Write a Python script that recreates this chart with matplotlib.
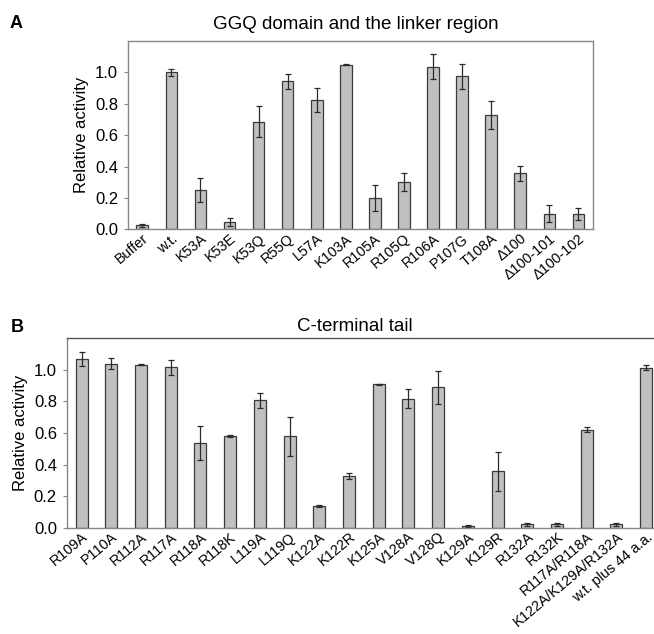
import numpy as np
import matplotlib
matplotlib.use("Agg")
import matplotlib.pyplot as plt

plt.rcParams['font.family'] = ['Liberation Sans', 'DejaVu Sans']

# panel A: GGQ domain and the linker region
labels_a = ['Buffer', 'w.t.', 'K53A', 'K53E', 'K53Q', 'R55Q', 'L57A', 'K103A',
            'R105A', 'R105Q', 'R106A', 'P107G', 'T108A', 'Δ100', 'Δ100-101', 'Δ100-102']
values_a = [0.025, 1.0, 0.25, 0.048, 0.685, 0.943, 0.823, 1.05,
            0.198, 0.302, 1.036, 0.976, 0.728, 0.356, 0.099, 0.099]
errors_a = [0.008, 0.02, 0.075, 0.025, 0.098, 0.05, 0.075, 0.005,
            0.083, 0.058, 0.08, 0.08, 0.088, 0.05, 0.055, 0.038]

# panel B: C-terminal tail
labels_b = ['R109A', 'P110A', 'R112A', 'R117A', 'R118A', 'R118K', 'L119A', 'L119Q',
            'K122A', 'K122R', 'K125A', 'V128A', 'V128Q', 'K129A', 'K129R', 'R132A',
            'R132K', 'R117A/R118A', 'K122A/K129A/R132A', 'w.t. plus 44 a.a.']
values_b = [1.07, 1.04, 1.032, 1.015, 0.534, 0.583, 0.807, 0.578,
            0.136, 0.328, 0.909, 0.818, 0.89, 0.008, 0.356, 0.021,
            0.021, 0.621, 0.021, 1.013]
errors_b = [0.045, 0.035, 0.003, 0.047, 0.108, 0.006, 0.046, 0.122,
            0.005, 0.017, 0.004, 0.062, 0.104, 0.006, 0.124, 0.008,
            0.008, 0.015, 0.008, 0.017]

fig = plt.figure(figsize=(6.54, 6.34), dpi=100)
ax_a = fig.add_axes([0.1953, 0.6383, 0.7114, 0.2970])
ax_b = fig.add_axes([0.1020, 0.1677, 0.9087, 0.2987])


def draw(ax, labels, values, errors, title, title_x, title_pad):
    x = np.arange(len(labels))
    ax.bar(x, values, width=0.4, color='#c0c0c0', edgecolor='#3a3a3a', linewidth=0.9)
    ax.errorbar(x, values, yerr=errors, fmt='none', ecolor='#2a2a2a',
                elinewidth=0.9, capsize=2.2, capthick=0.9)
    ax.set_xlim(-0.5, len(labels) - 0.5)
    ax.set_ylim(0, 1.2)
    ax.set_yticks([0, 0.2, 0.4, 0.6, 0.8, 1.0])
    ax.set_yticklabels(['0.0', '0.2', '0.4', '0.6', '0.8', '1.0'])
    ax.set_xticks(x)
    ax.set_xticklabels(labels, rotation=40, ha='right', rotation_mode='anchor')
    ax.tick_params(axis='x', length=0, pad=1.5, labelsize=10.4)
    ax.tick_params(axis='y', length=3, width=0.8, color='#888888', pad=4, labelsize=12)
    ax.set_ylabel('Relative activity', fontsize=12, labelpad=4)
    ax.set_title(title, fontsize=13.5, x=title_x, pad=title_pad)
    for s in ax.spines.values():
        s.set_color('#888888')
        s.set_linewidth(1.0)


draw(ax_a, labels_a, values_a, errors_a, 'GGQ domain and the linker region', 0.49, 9)
draw(ax_b, labels_b, values_b, errors_b, 'C-terminal tail', 0.485, 5)
ax_b.spines['top'].set_color('#555555')

fig.text(10 / 654, 1 - 24 / 634, 'A', fontsize=13, fontweight='bold', va='center')
fig.text(11 / 654, 1 - 328 / 634, 'B', fontsize=13, fontweight='bold', va='center')

fig.savefig('out.png', dpi=100)
